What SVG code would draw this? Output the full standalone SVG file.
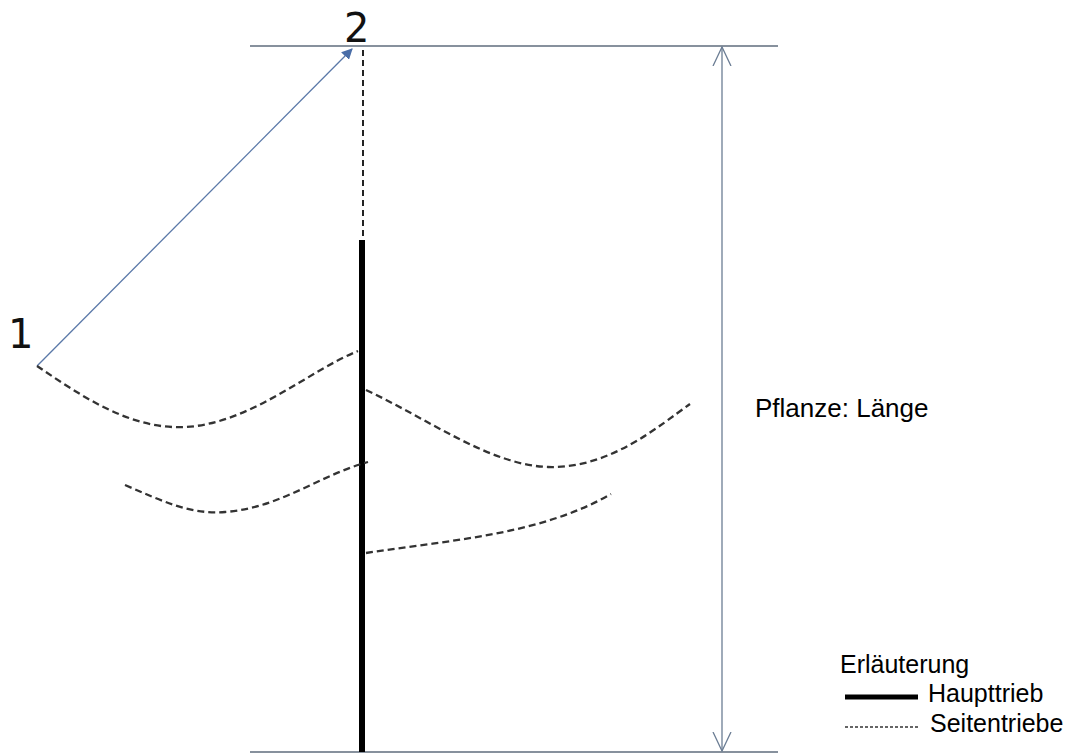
<svg xmlns="http://www.w3.org/2000/svg" width="1073" height="755" viewBox="0 0 1073 755">
<style>
.txt{font-family:"Liberation Sans",Arial,sans-serif;fill:#000;font-size:25px}
.num{font-family:"DejaVu Sans",sans-serif;fill:#111;font-size:40px}
.dash{fill:none;stroke:#333;stroke-width:2.3;stroke-dasharray:7,4}
.ref{stroke:#5f6d7c;stroke-width:1.3;fill:none}
</style>
<defs>
<marker id="fill" viewBox="0 0 10 10" refX="9" refY="5" markerWidth="11" markerHeight="11" markerUnits="userSpaceOnUse" orient="auto">
<path d="M0,0 L10,5 L0,10 Z" fill="#4a6ea8"/>
</marker>
<marker id="open" viewBox="0 0 20 20" refX="19" refY="10" markerWidth="20" markerHeight="20" markerUnits="userSpaceOnUse" orient="auto">
<path d="M0,1 L19,10 L0,19" fill="none" stroke="#6b7d94" stroke-width="1.3"/>
</marker>
</defs>
<rect width="1073" height="755" fill="#fff"/>
<g id="reference-lines">
<line class="ref" x1="250" y1="46" x2="778" y2="46"/>
<line class="ref" x1="250" y1="752" x2="778" y2="752"/>
</g>
<g id="connectors">
<line x1="37" y1="366" x2="352" y2="49" stroke="#5a78a8" stroke-width="1.3" marker-end="url(#fill)"/>
<line x1="722" y1="390" x2="722" y2="47" stroke="#6b7d94" stroke-width="1.3" marker-end="url(#open)"/>
<line x1="722" y1="390" x2="722" y2="751" stroke="#6b7d94" stroke-width="1.3" marker-end="url(#open)"/>
</g>
<g id="main-shoot">
<line x1="363" y1="50" x2="363" y2="240" stroke="#222" stroke-width="2" stroke-dasharray="6,4"/>
<line x1="362" y1="240" x2="362" y2="752" stroke="#000" stroke-width="6"/>
</g>
<g id="side-shoots">
<path class="dash" d="M37,366 C80,395 130,430 185,427 C250,424 310,370 358,351"/>
<path class="dash" d="M366,390 C430,420 490,465 548,467 C610,469 660,425 690,404"/>
<path class="dash" d="M125,485 C160,500 190,515 225,512 C280,508 320,475 368,462"/>
<path class="dash" d="M366,553 C450,540 540,535 611,494"/>
</g>
<g id="labels">
<text class="num" x="8" y="348">1</text>
<text class="num" x="344" y="42">2</text>
<text class="txt" x="755" y="417" style="font-size:26px">Pflanze: Länge</text>
</g>
<g id="legend">
<text class="txt" x="840" y="673">Erläuterung</text>
<line x1="845" y1="697" x2="918" y2="697" stroke="#000" stroke-width="5"/>
<text class="txt" x="928" y="702">Haupttrieb</text>
<line x1="845" y1="727" x2="918" y2="727" stroke="#333" stroke-width="1.3" stroke-dasharray="3,2"/>
<text class="txt" x="930" y="732">Seitentriebe</text>
</g>
</svg>
